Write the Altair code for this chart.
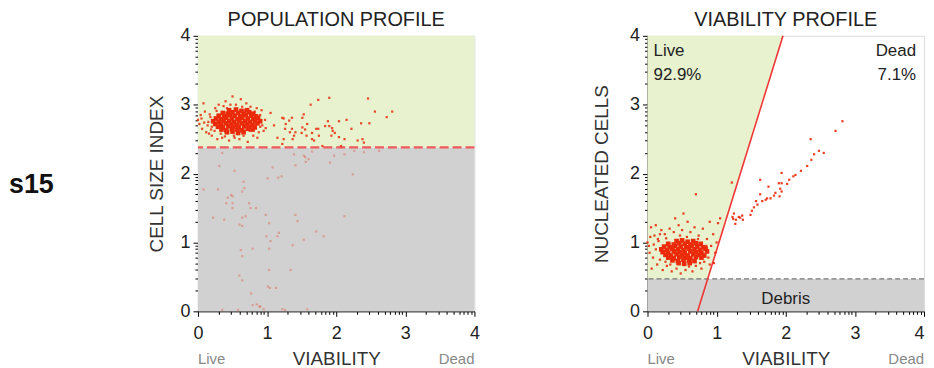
import math
import altair as alt
import pandas as pd

# ---------------- data ----------------
# POPULATION PROFILE: (viability, cell size index)
pop_core = [
    (0.45, 2.92), (0.55, 2.93), (0.63, 2.91), (0.71, 2.92),
    (0.36, 2.88), (0.43, 2.87), (0.50, 2.89), (0.58, 2.88), (0.66, 2.87), (0.74, 2.89), (0.80, 2.87),
    (0.30, 2.84), (0.38, 2.83), (0.46, 2.85), (0.53, 2.84), (0.61, 2.83), (0.69, 2.85), (0.77, 2.84), (0.84, 2.83),
    (0.26, 2.80), (0.33, 2.79), (0.41, 2.81), (0.49, 2.80), (0.57, 2.79), (0.64, 2.81), (0.72, 2.80), (0.80, 2.79), (0.87, 2.81),
    (0.22, 2.76), (0.30, 2.75), (0.37, 2.77), (0.45, 2.76), (0.52, 2.75), (0.60, 2.77), (0.68, 2.76), (0.75, 2.75), (0.83, 2.77), (0.90, 2.76),
    (0.25, 2.72), (0.33, 2.71), (0.40, 2.73), (0.48, 2.72), (0.56, 2.71), (0.63, 2.73), (0.71, 2.72), (0.79, 2.71), (0.86, 2.73),
    (0.29, 2.68), (0.36, 2.67), (0.44, 2.69), (0.51, 2.68), (0.59, 2.67), (0.67, 2.69), (0.74, 2.68), (0.82, 2.67),
    (0.34, 2.64), (0.41, 2.63), (0.49, 2.65), (0.57, 2.64), (0.64, 2.63), (0.72, 2.65), (0.79, 2.64),
    (0.42, 2.60), (0.50, 2.61), (0.58, 2.59), (0.66, 2.60),
]
pop_edge = [
    (0.02, 2.72), (0.04, 2.85), (0.00, 2.78), (0.06, 2.65), (0.10, 2.90), (0.12, 2.60), (0.15, 2.75),
    (0.08, 3.02), (0.18, 2.82), (0.20, 2.55), (0.25, 2.95), (0.28, 2.50), (0.30, 3.00), (0.35, 2.52),
    (0.40, 3.05), (0.45, 2.48), (0.50, 3.12), (0.52, 2.55), (0.55, 3.00), (0.60, 2.50), (0.62, 3.08),
    (0.66, 2.55), (0.70, 3.02), (0.72, 2.46), (0.76, 2.97), (0.80, 2.55), (0.85, 2.95), (0.88, 2.60),
    (0.90, 2.85), (0.93, 2.70), (0.95, 2.62), (0.97, 2.78), (0.20, 2.68), (0.14, 2.70), (0.24, 2.62),
    (0.82, 2.90), (0.90, 2.68), (0.33, 2.58), (0.68, 2.92), (0.58, 2.58), (0.42, 2.95), (0.75, 2.62),
    (0.05, 2.80), (0.09, 2.74), (0.17, 2.86), (0.19, 2.64), (0.27, 2.91), (0.37, 2.98), (0.47, 3.00),
    (0.64, 2.97), (0.86, 2.52), (0.92, 2.92), (0.98, 2.66), (0.16, 2.58), (0.39, 2.54), (0.53, 2.52),
]
pop_scatter = [
    (1.22, 2.81), (1.24, 2.80), (1.36, 2.81), (1.32, 2.77), (1.27, 2.72), (1.26, 2.65), (1.36, 2.65),
    (1.33, 2.60), (1.41, 2.60), (1.39, 2.55), (1.37, 2.50), (1.24, 2.50), (1.22, 2.43), (1.51, 2.81),
    (1.53, 2.86), (1.51, 2.67), (1.50, 2.59), (1.55, 2.64), (1.58, 2.72), (1.57, 2.55), (1.63, 3.00),
    (1.74, 3.07), (1.90, 3.10), (1.65, 2.59), (1.65, 2.50), (1.68, 2.48), (1.71, 2.65), (1.74, 2.65),
    (1.75, 2.55), (1.84, 2.69), (1.88, 2.76), (1.90, 2.69), (1.94, 2.66), (1.95, 2.62), (1.93, 2.55),
    (1.98, 2.59), (2.04, 2.76), (2.04, 2.53), (2.12, 2.50), (2.15, 2.78), (2.22, 2.65), (2.31, 2.48),
    (2.36, 2.73), (2.38, 2.50), (2.40, 2.45), (2.46, 3.09), (2.48, 2.73), (2.56, 2.90), (2.73, 2.82),
    (2.81, 2.90), (1.80, 2.40), (2.07, 2.40), (1.05, 2.88), (1.10, 2.70), (1.15, 2.52),
]
pop_gated = [
    (0.35, 2.30), (0.31, 2.11), (0.53, 2.04), (0.08, 1.77), (0.29, 1.77), (0.41, 1.57), (0.43, 1.65),
    (0.48, 1.69), (0.50, 1.67), (0.50, 1.57), (0.50, 1.50), (0.66, 1.88), (0.67, 1.79), (0.64, 1.74),
    (0.74, 1.57), (0.76, 1.50), (0.84, 1.50), (0.22, 1.36), (0.38, 1.33), (0.60, 1.26), (0.64, 1.24),
    (0.64, 1.36), (0.69, 1.38), (1.01, 1.93), (1.08, 2.09), (1.16, 1.94), (1.21, 1.96), (0.98, 1.40),
    (1.03, 1.28), (0.99, 1.09), (1.05, 1.02), (1.03, 0.91), (1.17, 1.14), (1.15, 1.09), (0.79, 0.91),
    (0.62, 0.89), (0.64, 0.80), (0.60, 0.52), (0.64, 0.45), (0.77, 0.26), (0.79, 0.09), (0.89, 0.07),
    (1.03, 0.60), (1.01, 0.36), (1.04, 0.34), (1.13, 0.34), (1.34, 0.60), (1.37, 0.96), (1.41, 1.40),
    (1.44, 1.31), (1.53, 1.04), (1.71, 1.16), (1.82, 1.09), (2.12, 1.38), (2.24, 1.99), (1.39, 2.28),
    (1.41, 2.12), (1.53, 2.26), (1.55, 2.24), (1.56, 2.17), (1.60, 2.21), (1.65, 2.32), (1.91, 2.16),
    (1.97, 2.26), (2.12, 2.28), (2.26, 2.33), (2.40, 2.31), (2.62, 2.33), (0.35, 0.02), (0.58, 0.02),
    (0.85, 0.10), (0.90, 0.07), (0.95, 0.03), (1.22, 0.03), (1.26, 0.02), (1.58, 0.03),
]

# VIABILITY PROFILE: (viability, nucleated cells)
via_core = [
    (0.42, 1.02), (0.50, 1.03), (0.58, 1.01), (0.66, 1.02),
    (0.30, 0.98), (0.38, 0.97), (0.46, 0.99), (0.54, 0.98), (0.62, 0.97), (0.70, 0.99), (0.77, 0.98),
    (0.24, 0.94), (0.32, 0.93), (0.40, 0.95), (0.48, 0.94), (0.56, 0.93), (0.64, 0.95), (0.72, 0.94), (0.80, 0.93),
    (0.20, 0.90), (0.28, 0.89), (0.36, 0.91), (0.44, 0.90), (0.52, 0.89), (0.60, 0.91), (0.68, 0.90), (0.76, 0.89), (0.84, 0.91),
    (0.22, 0.86), (0.30, 0.85), (0.38, 0.87), (0.46, 0.86), (0.54, 0.85), (0.62, 0.87), (0.70, 0.86), (0.78, 0.85), (0.86, 0.87),
    (0.26, 0.82), (0.34, 0.81), (0.42, 0.83), (0.50, 0.82), (0.58, 0.81), (0.66, 0.83), (0.74, 0.82), (0.82, 0.81),
    (0.30, 0.78), (0.38, 0.77), (0.46, 0.79), (0.54, 0.78), (0.62, 0.77), (0.70, 0.79), (0.78, 0.78),
    (0.36, 0.74), (0.44, 0.73), (0.52, 0.75), (0.60, 0.74), (0.68, 0.73),
    (0.45, 0.70), (0.53, 0.69), (0.61, 0.70),
]
via_edge = [
    (0.02, 0.95), (0.03, 0.85), (0.00, 1.00), (0.05, 1.22), (0.08, 0.78), (0.10, 1.10), (0.12, 0.90),
    (0.14, 0.68), (0.16, 1.02), (0.18, 0.75), (0.20, 1.18), (0.22, 0.60), (0.25, 1.12), (0.28, 0.66),
    (0.32, 1.20), (0.35, 0.58), (0.38, 1.15), (0.42, 0.62), (0.45, 1.25), (0.48, 0.55), (0.50, 1.18),
    (0.55, 0.60), (0.58, 1.30), (0.60, 0.65), (0.62, 1.15), (0.65, 0.58), (0.68, 1.22), (0.70, 0.66),
    (0.74, 1.10), (0.78, 0.62), (0.80, 1.20), (0.82, 0.72), (0.86, 1.05), (0.88, 0.78), (0.90, 1.30),
    (0.92, 0.95), (0.95, 1.12), (0.98, 0.85), (1.00, 1.00), (1.05, 1.35), (0.70, 1.70), (0.52, 1.42),
    (0.40, 1.35), (0.12, 1.25), (0.06, 0.62), (1.02, 1.28), (0.96, 0.70), (0.15, 1.05),
    (0.04, 1.08), (0.09, 0.97), (0.18, 1.12), (0.27, 1.06), (0.33, 0.68), (0.47, 1.10), (0.57, 1.08),
    (0.73, 1.05), (0.85, 0.95), (0.90, 0.68), (0.76, 0.70), (0.26, 0.72),
]
via_dead = [
    (2.82, 2.76), (2.72, 2.62), (2.36, 2.50), (2.55, 2.30), (2.48, 2.33), (2.41, 2.28), (2.37, 2.20),
    (2.31, 2.11), (2.22, 2.04), (2.14, 1.98), (2.11, 1.96), (2.05, 1.91), (2.02, 1.85), (1.94, 2.01),
    (1.94, 1.86), (1.90, 1.86), (1.92, 1.78), (1.94, 1.74), (1.91, 1.67), (1.85, 1.72), (1.83, 1.68),
    (1.78, 1.64), (1.73, 1.64), (1.75, 1.81), (1.71, 1.62), (1.63, 1.91), (1.63, 1.70), (1.66, 1.60),
    (1.59, 1.55), (1.57, 1.60), (1.51, 1.46), (1.49, 1.40), (1.54, 1.51), (1.37, 1.39), (1.34, 1.36),
    (1.32, 1.37), (1.28, 1.33), (1.25, 1.42), (1.24, 1.34), (1.27, 1.27), (1.38, 1.33), (1.23, 1.37),
    (1.22, 1.87),
]

POP_GATE = 2.38
DEBRIS = 0.47
VIA_LINE_X = [0.725, 1.96]
VIA_LINE_Y = [0.0, 4.0]
LIVE_PCT = "92.9%"
DEAD_PCT = "7.1%"

# ---------------- styling ----------------
W, H = 278, 277
GREEN = "#e8f2cf"
GRAY = "#d1d1d1"
RED = "#ea2a0a"
FONT = "Liberation Sans"

TICKS = sorted(set([round(d + math.log10(k), 5) for d in range(4) for k in range(1, 10)] + [4.0]))
MAJOR = "abs(datum.value - round(datum.value)) < 0.001"


def axis(title, label_pad, title_pad, last_right=False):
    kw = dict(
        values=TICKS,
        title=title,
        labelExpr=f"{MAJOR} ? format(round(datum.value), 'd') : ''",
        tickSize={"condition": {"test": MAJOR, "value": 5}, "value": 3},
        labelOverlap=False,
        labelFlush=False,
        labelBound=False,
        labelFontSize=18,
        labelFont=FONT,
        labelColor="#222",
        labelPadding=label_pad,
        titleFont=FONT,
        titleFontSize=19,
        titleFontWeight="normal",
        titleColor="#333",
        titlePadding=title_pad,
        domainColor="#000",
        tickColor="#000",
        grid=False,
    )
    if last_right:
        kw["labelAlign"] = {"condition": {"test": "datum.value >= 3.999", "value": "right"}, "value": "center"}
    return alt.Axis(**kw)


SC = alt.Scale(domain=[0, 4], nice=False, zero=False)


def pts(data):
    return pd.DataFrame(data, columns=["x", "y"])


def xy(xtitle, ytitle, ytitle_pad, last_right=False):
    return dict(
        x=alt.X("x:Q", scale=SC, axis=axis(xtitle, 8, 7, last_right)),
        y=alt.Y("y:Q", scale=SC, axis=axis(ytitle, 3, ytitle_pad)),
    )


def label(text, x, y, size=17, align="left", color="#222", weight="normal"):
    return alt.Chart(pd.DataFrame({"t": [text]})).mark_text(
        align=align, baseline="middle", fontSize=size, font=FONT, color=color, fontWeight=weight
    ).encode(x=alt.value(x), y=alt.value(y), text="t:N")


# ---------------- left panel ----------------
LX, LY = "VIABILITY", "CELL SIZE INDEX"
L = xy(LX, LY, 14)
bg_left = pd.DataFrame({
    "x": [0, 0], "x2": [4, 4], "y": [POP_GATE, 0], "y2": [4, POP_GATE], "fill": [GREEN, GRAY]
})
left_layers = [
    alt.Chart(bg_left).mark_rect().encode(**L, x2="x2:Q", y2="y2:Q", color=alt.Color("fill:N", scale=None)),
    alt.Chart(pts(pop_gated)).mark_square(size=5, color=RED, opacity=0.3).encode(**L),
    alt.Chart(pd.DataFrame({"y": [POP_GATE]})).mark_rule(color="#f05a5a", strokeWidth=2.2, strokeDash=[9, 4]).encode(
        y=L["y"]
    ),
    alt.Chart(pts(pop_core)).mark_square(size=22, color=RED, opacity=1).encode(**L),
    alt.Chart(pts(pop_edge + pop_scatter)).mark_square(size=5, color=RED, opacity=0.85).encode(**L),
    label("POPULATION PROFILE", W / 2, -16, size=20, align="center"),
    label("Live", 0, H + 48, size=15, color="#888"),
    label("Dead", W, H + 48, size=15, align="right", color="#888"),
    label("s15", -190, 150, size=27, weight="bold", color="#111"),
]
left = alt.layer(*left_layers).properties(width=W, height=H)

# ---------------- right panel ----------------
RX, RY = "VIABILITY", "NUCLEATED CELLS"
R = xy(RX, RY, 18, True)
green_poly = pd.DataFrame({
    "y": [DEBRIS, 4.0],
    "x": [VIA_LINE_X[0] + (VIA_LINE_X[1] - VIA_LINE_X[0]) * DEBRIS / 4.0, VIA_LINE_X[1]],
    "x2": [0, 0],
})
right_layers = [
    alt.Chart(green_poly).mark_area(orient="horizontal", color=GREEN, opacity=1).encode(**R, x2="x2:Q"),
    alt.Chart(pd.DataFrame({"x": [0], "x2": [4], "y": [0], "y2": [DEBRIS]})).mark_rect(color=GRAY).encode(
        **R, x2="x2:Q", y2="y2:Q"
    ),
    alt.Chart(pd.DataFrame({"y": [DEBRIS]})).mark_rule(color="#777", strokeWidth=1.2, strokeDash=[5, 3]).encode(
        y=R["y"]
    ),
    alt.Chart(pd.DataFrame({"x": VIA_LINE_X, "y": VIA_LINE_Y})).mark_line(color="#f03535", strokeWidth=1.6).encode(**R),
    alt.Chart(pts(via_core)).mark_square(size=22, color=RED, opacity=1).encode(**R),
    alt.Chart(pts(via_edge + via_dead)).mark_square(size=5, color=RED, opacity=0.9).encode(**R),
    label("VIABILITY PROFILE", W / 2, -16, size=20, align="center"),
    label("Live", 6, 15),
    label(LIVE_PCT, 6, 39),
    label("Dead", W - 8, 15, align="right"),
    label(DEAD_PCT, W - 8, 39, align="right"),
    label("Debris", W / 2, 265, align="center"),
    label("Live", 0, H + 48, size=15, color="#888"),
    label("Dead", W, H + 48, size=15, align="right", color="#888"),
]
right = alt.layer(*right_layers).properties(width=W, height=H)

chart = alt.hconcat(left, right, spacing=112).properties(
    padding={"left": 0, "top": 0, "right": 0, "bottom": 0}
).configure_view(stroke="#333", strokeWidth=1).configure(background="white")

chart.save("out.html", embed_options={"renderer": "svg", "actions": False})
